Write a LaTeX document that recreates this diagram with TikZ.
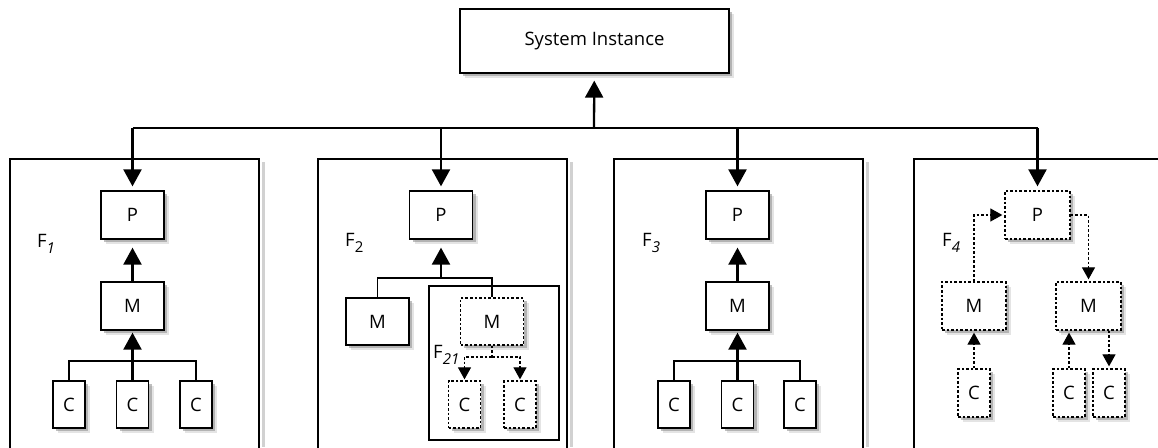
\documentclass[tikz,border=0pt]{standalone}
\usepackage{fontspec}
\setmainfont{Open Sans}
\usetikzlibrary{arrows.meta,shadows}
\newcommand{\subidx}[1]{\raisebox{-6pt}{\fontsize{15}{15}\selectfont #1}}
\begin{document}
\begin{tikzpicture}[x=1pt,y=-1pt,
  font=\fontsize{18.5}{21}\selectfont,
  shad/.style={
    drop shadow={shadow xshift=5pt,shadow yshift=-5pt,fill=black!30,opacity=.35},
    drop shadow={shadow xshift=3pt,shadow yshift=-3pt,fill=black!45,opacity=.55}},
  box/.style={draw,fill=white,line width=1.3pt,inner sep=0pt,shad},
  pbox/.style={box,minimum width=63pt,minimum height=48pt},
  cbox/.style={box,minimum width=32pt,minimum height=47pt},
  dashpat/.style={dash pattern=on 2.6pt off 2pt},
  dpbox/.style={pbox,dashpat},
  dcbox/.style={cbox,dashpat},
  frame/.style={draw,line width=1.3pt},
  bold/.style={line width=2.3pt},
  thin/.style={line width=1.3pt},
  big/.style={-{Triangle[length=17pt,width=18pt]}},
  small/.style={-{Triangle[length=12pt,width=13pt]}},
  dline/.style={line width=1.2pt,dashpat},
  flabel/.style={anchor=base west,inner sep=0pt},
]
\useasboundingbox (0,0) rectangle (1158,447);

% panel frames (their lower edges run off the page)
\fill[black!30,opacity=.6] (262,162) rectangle (265,447);
\fill[black!30,opacity=.6] (570,162) rectangle (573,447);
\fill[black!30,opacity=.6] (866,162) rectangle (869,447);
\draw[frame,fill=white] (10,470) -- (10,159) -- (259,159) -- (259,470);
\draw[frame,fill=white] (318,470) -- (318,159) -- (567,159) -- (567,470);
\draw[frame,fill=white] (614,470) -- (614,159) -- (863,159) -- (863,470);
\draw[frame,fill=white] (914,470) -- (914,159) -- (1170,159);

% top level
\node[box,minimum width=269pt,minimum height=64pt] (si) at (594.5,41) {System Instance};
\coordinate (bus) at (594,128);
\coordinate (b1) at (132.5,128);
\coordinate (b4) at (1037.5,128);
\draw[bold] (b1) -- (b4);
\draw[bold,big,shorten >=7pt] (bus) -- (si);

% ---- F1 ----
\node[pbox] (p1) at (132.5,215) {P};
\node[pbox] (m1) at (132.5,306) {M};
\node[cbox] (c11) at (69,404.5) {C};
\node[cbox] (c12) at (132.5,404.5) {C};
\node[cbox] (c13) at (196,404.5) {C};
\node[flabel] (f1) at (37,247) {F\subidx{\itshape 1}};
\draw[bold,big,shorten >=4pt] (b1) -- (p1);
\draw[bold,big,shorten >=8pt] (m1) -- (p1);
\draw[bold,big,shorten >=2pt] (c12) -- (m1);
\draw[thin] (c11.north) |- (132.5,361) -| (c13.north);

% ---- F2 ----
\node[pbox] (p2) at (441,215) {P};
\node[box,minimum width=63pt,minimum height=47pt] (m21) at (377.5,321.5) {M};
\draw[frame] (429,286) rectangle (559,440);
\node[dpbox,minimum height=47pt] (m22) at (492,321.5) {M};
\node[dcbox] (c21) at (464.5,404.5) {C};
\node[dcbox] (c22) at (520,404.5) {C};
\node[flabel] (f2) at (345,246) {F\subidx{2}};
\node[flabel] (f21) at (433,358) {F\subidx{\itshape 21}};
\coordinate (j2) at (441,278);
\draw[bold,big,shorten >=4pt] (441,128) -- (p2);
\draw[bold,big,shorten >=8pt] (j2) -- (p2);
\draw[thin] (m21.north) |- (j2) -| (m22.north);
\coordinate (j21) at (492,357);
\draw[dline] (m22.south) -- (j21);
\draw[dline,small,shorten >=1pt] (j21) -| (c21.north);
\draw[dline,small,shorten >=1pt] (j21) -| (c22.north);
\draw[line width=2.6pt] (440,440) -- (493,440);
\draw[line width=2.6pt] (497,440) -- (549,440);

% ---- F3 ----
\node[pbox] (p3) at (737.5,215) {P};
\node[pbox] (m3) at (737.5,306) {M};
\node[cbox] (c31) at (674,404.5) {C};
\node[cbox] (c32) at (737.5,404.5) {C};
\node[cbox] (c33) at (800,404.5) {C};
\node[flabel] (f3) at (642,246) {F\subidx{\itshape 3}};
\draw[bold,big,shorten >=4pt] (737.5,128) -- (p3);
\draw[bold,big,shorten >=8pt] (m3) -- (p3);
\draw[bold,big,shorten >=2pt] (c32) -- (m3);
\draw[thin] (c31.north) |- (737.5,361) -| (c33.north);

% ---- F4 ----
\node[dpbox,minimum width=65pt] (p4) at (1037.5,215) {P};
\node[dpbox,minimum width=64pt] (m41) at (974,306) {M};
\node[dpbox,minimum width=65pt] (m42) at (1088.5,306) {M};
\node[dcbox,minimum height=48pt] (c41) at (974,393) {C};
\node[dcbox,minimum height=48pt] (c42) at (1069,393) {C};
\node[dcbox,minimum height=48pt] (c43) at (1109,393) {C};
\node[flabel] (f4) at (942,246) {F\subidx{\itshape 4}};
\draw[bold,big,shorten >=4pt] (b4) -- (p4);
\draw[dline,small,shorten >=2pt] (m41.north) |- (p4.west);
\draw[dline,small,shorten >=2pt] (p4.east) -| (m42.north);
\draw[dline,small,shorten >=2pt] (c41.north) -- (m41.south);
\draw[dline,small,shorten >=2pt] (c42.north) -- (c42.north |- m42.south);
\draw[dline,small,shorten >=2pt] (c43.north |- m42.south) -- (c43.north);
\end{tikzpicture}
\end{document}
